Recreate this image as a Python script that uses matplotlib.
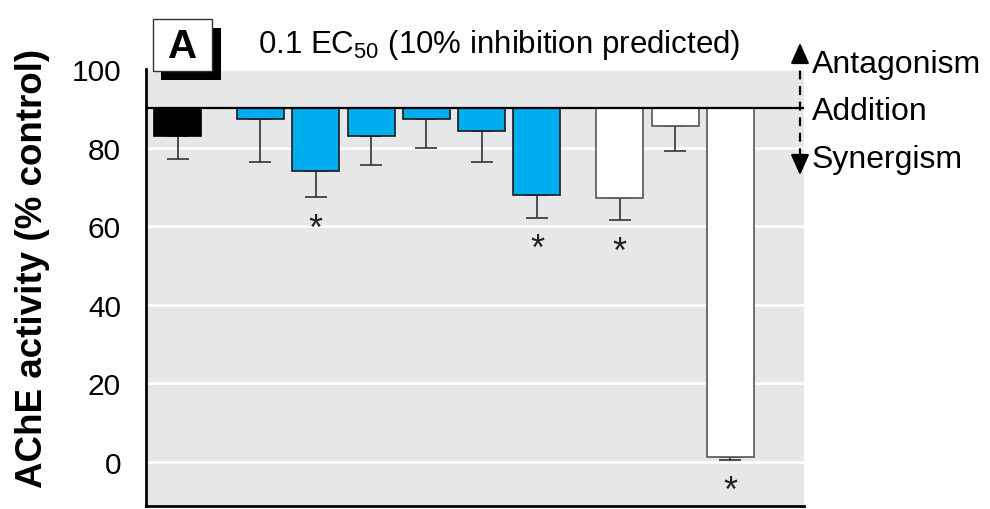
import numpy as np
import matplotlib
matplotlib.use('Agg')
import matplotlib.pyplot as plt
from matplotlib.patches import Rectangle
from matplotlib import font_manager

# AChE activity (% control) per treatment, lower error (SEM) and significance
positions = [0, 1.5, 2.5, 3.5, 4.5, 5.5, 6.5, 8, 9, 10]
means = [83.0, 87.2, 73.9, 83.0, 87.2, 84.1, 67.8, 67.2, 85.4, 1.1]
errors = [5.9, 10.9, 6.6, 7.5, 7.4, 7.8, 5.7, 5.7, 6.4, 0.6]
groups = ['single', 'mix', 'mix', 'mix', 'mix', 'mix', 'mix', 'other', 'other', 'other']
significant = [False, False, True, False, False, False, True, True, False, True]
predicted = 90   # 10% inhibition predicted -> additivity line
yticks = [0, 20, 40, 60, 80, 100]

names = {f.name for f in font_manager.fontManager.ttflist}
narrow = 'Liberation Sans Narrow' if 'Liberation Sans Narrow' in names else 'Liberation Sans'
plt.rcParams['font.family'] = [narrow, 'DejaVu Sans']

face = {'single': 'black', 'mix': '#00AEEF', 'other': 'white'}
edge = {'single': 'black', 'mix': '#1a1a1a', 'other': '#555555'}

fig = plt.figure(figsize=(9.9, 5.1), dpi=100)
ax = fig.add_axes([146 / 990, 3.3 / 510, 658 / 990, 436.7 / 510])
ax.set_facecolor('#E6E7E8')

heights = [m - predicted for m in means]
ax.bar(positions, heights, bottom=predicted, width=0.85,
       color=[face[g] for g in groups], edgecolor=[edge[g] for g in groups],
       linewidth=1.2, zorder=3)
ax.errorbar(positions, means, yerr=[errors, np.zeros(len(errors))], fmt='none',
            ecolor='#333333', elinewidth=1.2, capsize=8, capthick=1.2, zorder=2)
ax.axhline(predicted, color='black', lw=1.6, zorder=4)

for x, m, e, s in zip(positions, means, errors, significant):
    if s:
        ax.annotate('*', xy=(x, m - e), xytext=(0, -23), textcoords='offset points',
                    ha='center', va='center', fontsize=26, color='#222222')

ax.set_xlim(-0.57, 11.33)
ax.set_ylim(-11.2, 100)
ax.set_yticks(yticks)
ax.set_xticks([])
ax.yaxis.grid(True, color='white', lw=1.8)
ax.set_axisbelow(True)
ax.tick_params(axis='y', length=0, pad=18, labelsize=21.5)
for s in ['top', 'right']:
    ax.spines[s].set_visible(False)
ax.spines['left'].set_linewidth(2)
ax.spines['bottom'].set_linewidth(2)

fig.text(33 / 990, 1 - 268 / 510, 'AChE activity (% control)', rotation=90,
         ha='center', va='center', fontsize=26.5, fontweight='bold')

# overlay in pixel coordinates for panel label and annotations
ov = fig.add_axes([0, 0, 1, 1])
ov.set_xlim(0, 990)
ov.set_ylim(510, 0)
ov.axis('off')
ov.add_patch(Rectangle((161, 29), 60, 52, facecolor='black', edgecolor='none', zorder=5))
ov.add_patch(Rectangle((153, 20), 59, 52, facecolor='white', edgecolor='#333333', lw=1, zorder=6))
ov.text(182.5, 47, 'A', ha='center', va='center', fontsize=29, fontweight='bold',
        family='Liberation Sans', zorder=7)
ov.text(258, 45, r'0.1 EC$_{\mathregular{50}}$ (10% inhibition predicted)',
        ha='left', va='center', fontsize=22.5)

ov.plot([800, 800], [56, 164], color='black', lw=1.6, ls=(0, (4, 3)))
ov.annotate('', xy=(800, 41), xytext=(800, 58),
            arrowprops=dict(arrowstyle='-|>,head_length=0.9,head_width=0.4',
                            color='black', lw=1.6, mutation_scale=14))
ov.annotate('', xy=(800, 179), xytext=(800, 162),
            arrowprops=dict(arrowstyle='-|>,head_length=0.9,head_width=0.4',
                            color='black', lw=1.6, mutation_scale=14))
ov.text(812, 65, 'Antagonism', ha='left', va='center', fontsize=23)
ov.text(812, 112, 'Addition', ha='left', va='center', fontsize=23)
ov.text(812, 160, 'Synergism', ha='left', va='center', fontsize=23)

fig.savefig('out.png', dpi=100)
